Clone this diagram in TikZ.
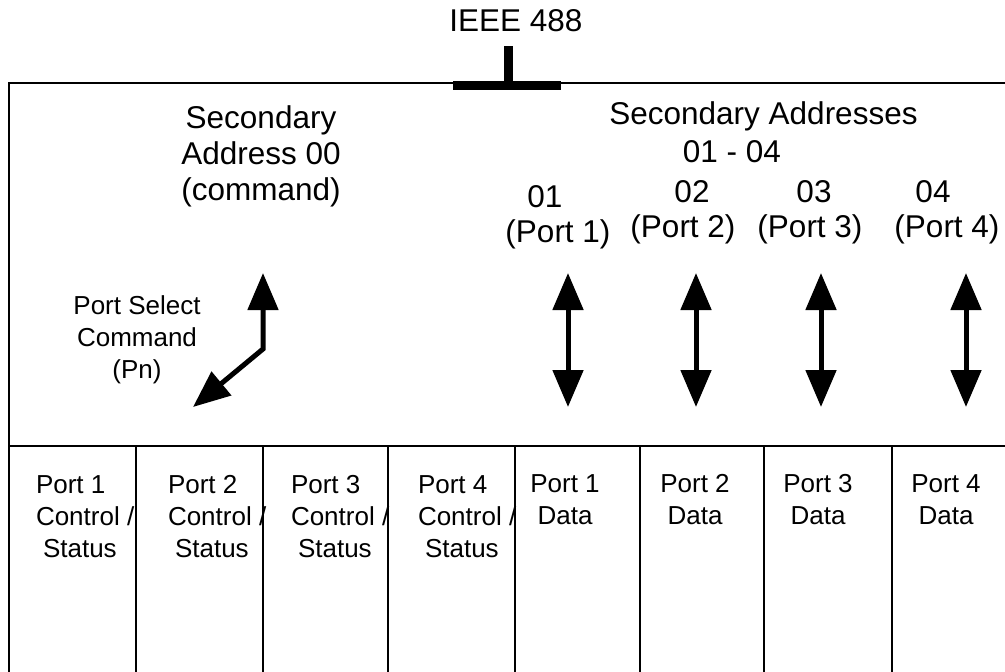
\documentclass[tikz,border=0pt]{standalone}
\usepackage{fontspec}
\setmainfont{Liberation Sans}
\usetikzlibrary{arrows.meta}

\begin{document}
\begin{tikzpicture}[x=1pt, y=-1pt, line width=2pt]
\tikzstyle{big}=[inner sep=0pt, font=\fontsize{31.5}{36}\selectfont]
\tikzstyle{small}=[inner sep=0pt, font=\fontsize{26}{32}\selectfont]
\tikzstyle{dual}=[line width=5pt, {Triangle[length=37pt, width=30pt]}-{Triangle[length=37pt, width=30pt]}]
\useasboundingbox (0,0) rectangle (1005,672);

\node[big, anchor=base] (ieee) at (516,31) {IEEE 488};
\coordinate (stem) at (508.5,46);
\coordinate (bus) at (508.5,85.5);
\draw[line width=9pt] (453,85.5) -- (561,85.5);
\draw[line width=9pt] (stem) -- (bus);

\draw (1005,83) -- (9,83) -- (9,672);
\draw (9,446) -- (1005,446);
\foreach \x in {136,263,388,515,640,764,892}
  \draw (\x,446) -- (\x,672);

\node[big, anchor=base, align=center] (cmdaddr) at (261,200) {Secondary\\Address 00\\(command)};
\node[big, anchor=base] (dataaddr) at (763.5,124) {Secondary Addresses};
\node[big, anchor=base] (range) at (732,162) {01 - 04};
\foreach \i/\xa/\ya/\xb in {1/545/207/558, 2/692/202/683, 3/814/202/810, 4/933/202/947} {
  \node[big, anchor=base] (addr\i) at (\xa,\ya) {0\i};
  \node[big, anchor=base] (portlbl\i) at (\xb,\ya+35) {(Port \i)};
}

\node[small, anchor=base, align=center] (pselect) at (137,378) {Port Select\\Command\\(Pn)};
\coordinate (cmdup) at (263,273);
\coordinate (cmdbend) at (263,349);
\coordinate (cmddown) at (193,407);
\draw[dual] (cmdup) -- (cmdbend) -- (cmddown);

\foreach \i/\x in {1/568,2/696,3/821,4/966} {
  \coordinate (up\i) at (\x,273);
  \coordinate (down\i) at (\x,407);
  \draw[dual] (up\i) -- (down\i);
}

\foreach \i/\x in {1/35,2/167,3/290,4/417}
  \node[small, anchor=base west, align=left] (ctrl\i) at (\x,557) {Port \i\\Control /\\\hspace{7pt}Status};
\foreach \i/\x in {1/565,2/695,3/818,4/946}
  \node[small, anchor=base, align=center] (data\i) at (\x,524) {Port \i\\Data};
\end{tikzpicture}
\end{document}
